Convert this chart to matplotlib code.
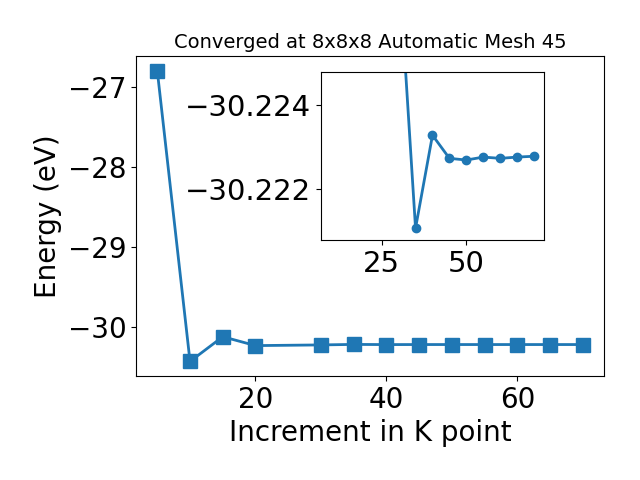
import matplotlib
matplotlib.use('Agg')
import matplotlib.pyplot as plt
from matplotlib.ticker import ScalarFormatter

# k-point increment vs total energy
kpoints = [5, 10, 15, 20, 30, 35, 40, 45, 50, 55, 60, 65, 70]
energy = [-26.80, -30.434, -30.125, -30.236, -30.22744, -30.22108, -30.22329,
          -30.22274, -30.22270, -30.22277, -30.22274, -30.22277, -30.22279]

# inset only shows the converged tail
kp_tail = kpoints[4:]
en_tail = energy[4:]

fig = plt.figure(figsize=(6.4, 4.8), dpi=100)
ax = fig.add_axes([0.2125, 0.2167, 0.7315, 0.6663])
ax.plot(kpoints, energy, marker='s', markersize=10, linewidth=2)
ax.set_title('Converged at 8x8x8 Automatic Mesh 45', fontsize=14)
ax.set_xlabel('Increment in K point', fontsize=20)
ax.set_ylabel('Energy (eV)', fontsize=20)
ax.tick_params(labelsize=20)

# zoomed inset
axin = fig.add_axes([0.501, 0.5, 0.3495, 0.349])
axin.plot(kp_tail, en_tail, marker='o', linewidth=2)
axin.set_xlim(7, 73)
axin.set_ylim(-30.2208, -30.22478)
axin.set_yticks([-30.224, -30.222])
axin.set_xticks([25, 50])
fmt = ScalarFormatter(useOffset=False)
axin.yaxis.set_major_formatter(fmt)
axin.tick_params(labelsize=21)

plt.savefig('out.png')
